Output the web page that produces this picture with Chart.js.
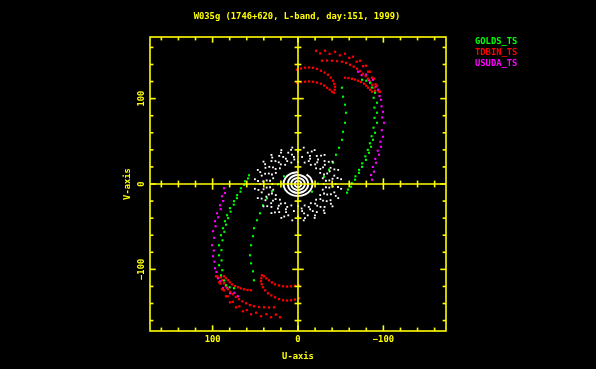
<!DOCTYPE html>
<html><head><meta charset="utf-8">
<script src="https://cdn.jsdelivr.net/npm/chart.js@4/dist/chart.umd.min.js"></script>
<style>html,body{margin:0;padding:0;background:#000;}canvas{display:block;}</style>
</head><body>
<canvas id="c" width="596" height="369"></canvas>
<script>
// ---------------- text ----------------
const titleText = 'W035g (1746+620, L-band, day:151, 1999)';
const seriesNames = ['GOLDS_TS', 'TDBIN_TS', 'USUDA_TS'];
const seriesColors = ['#00ff00', '#ff0000', '#ff00ff'];
const xAxisTitle = 'U-axis';
const yAxisTitle = 'V-axis';
const tickValues = [-160,-140,-120,-100,-80,-60,-40,-20,0,20,40,60,80,100,120,140,160];
const majorTickValues = [-100, 0, 100];
const majorTickLabels = ['\u2212100', '0', '100'];

// ---------------- TDBIN_TS (red) tracks [u, v] ----------------
const tdbinA1 = [[-21.1,156.1],[-31.6,156.1],[-43.3,154.9],[-55.0,152.6],[-64.4,149.1],[-72.6,144.4],[-79.6,138.6],[-84.3,131.5],[-89.0,123.3],[-92.5,115.1],[-96.0,108.1]];
const tdbinA2 = [[-26,153],[-37,152.5],[-49,150.8],[-60,147.7],[-68.7,143.3],[-76.3,138],[-82.2,131.6],[-86.8,124.6],[-90.9,116.8],[-94.3,108.4]];
const tdbinB = [[-28.1,144.4],[-34,144.6],[-39.8,144.4],[-45.6,144],[-51.5,143.2],[-56.3,141.8],[-60.9,139.7],[-65.2,137.5],[-69.1,135.0],[-72.8,132.2],[-76.1,129.2],[-79.2,126.3],[-82.0,123.3],[-84.5,119.9],[-86.7,116.3],[-88.6,112.8],[-90.2,109.3]];
const tdbinC = [[1.2,133.9],[-3.5,135.3],[-8.2,136.2],[-12.9,136.5],[-17.6,136.2],[-22.3,134.8],[-26.9,132.7],[-31.2,130.5],[-35.1,128.0],[-38.4,124.6],[-41.0,121.0],[-42.5,117.4],[-43.3,113.9],[-43.0,110.4],[-42.2,106.9]];
const tdbinD = [[1.2,118.6],[-3.5,119.4],[-8.2,119.8],[-12.9,120.1],[-17.6,119.8],[-22.3,118.8],[-26.9,117.5],[-30.6,115.3],[-34.0,112.8],[-37.1,110.5],[-39.8,108.1]];
const tdbinE = [[-55.0,124.5],[-59.1,124.1],[-63.2,123.3],[-66.8,122.3],[-70.3,121.0],[-73.8,119.4],[-77.3,117.5],[-79.9,115.2],[-82.0,112.8],[-84.5,110.4],[-86.7,108.1]];
const tdbinA1m = [[21.1,-156.1],[31.6,-156.1],[43.3,-154.9],[55.0,-152.6],[64.4,-149.1],[72.6,-144.4],[79.6,-138.6],[84.3,-131.5],[89.0,-123.3],[92.5,-115.1],[96.0,-108.1]];
const tdbinA2m = [[26,-153],[37,-152.5],[49,-150.8],[60,-147.7],[68.7,-143.3],[76.3,-138],[82.2,-131.6],[86.8,-124.6],[90.9,-116.8],[94.3,-108.4]];
const tdbinBm = [[28.1,-144.4],[34,-144.6],[39.8,-144.4],[45.6,-144],[51.5,-143.2],[56.3,-141.8],[60.9,-139.7],[65.2,-137.5],[69.1,-135.0],[72.8,-132.2],[76.1,-129.2],[79.2,-126.3],[82.0,-123.3],[84.5,-119.9],[86.7,-116.3],[88.6,-112.8],[90.2,-109.3]];
const tdbinCm = [[-1.2,-133.9],[3.5,-135.3],[8.2,-136.2],[12.9,-136.5],[17.6,-136.2],[22.3,-134.8],[26.9,-132.7],[31.2,-130.5],[35.1,-128.0],[38.4,-124.6],[41.0,-121.0],[42.5,-117.4],[43.3,-113.9],[43.0,-110.4],[42.2,-106.9]];
const tdbinDm = [[-1.2,-118.6],[3.5,-119.4],[8.2,-119.8],[12.9,-120.1],[17.6,-119.8],[22.3,-118.8],[26.9,-117.5],[30.6,-115.3],[34.0,-112.8],[37.1,-110.5],[39.8,-108.1]];
const tdbinEm = [[55.0,-124.5],[59.1,-124.1],[63.2,-123.3],[66.8,-122.3],[70.3,-121.0],[73.8,-119.4],[77.3,-117.5],[79.9,-115.2],[82.0,-112.8],[84.5,-110.4],[86.7,-108.1]];

// ---------------- GOLDS_TS (green) tracks ----------------
const goldsA1 = [[-75.0,122.1],[-84.3,118.6],[-90.2,106.9],[-92.5,95.2],[-92.5,83.5],[-92.5,71.7],[-90.2,60.0],[-87.8,51.8],[-85.5,43.6],[-83.1,36.6],[-79.6,28.3],[-75.0,20.1],[-71.4,13.1],[-66.8,5.0],[-62.1,-3.2],[-57.4,-10.2]];
const goldsA2 = [[-80,121],[-86.5,113],[-88.6,101],[-89.5,89.5],[-89.6,77.5],[-88.4,66],[-86.2,56],[-84.2,47.7],[-81.8,40],[-78.9,32.4],[-75.2,24.2],[-71.5,16.6],[-67.3,9],[-63,1],[-58.5,-6.5]];
const goldsB = [[-51.5,112.8],[-52.7,102.3],[-55.0,92.9],[-56.2,83.5],[-55.0,71.7],[-52.7,61.2],[-51.5,51.8],[-48.0,42.5],[-44.5,34.3],[-41.0,24.9],[-36.3,16.7],[-30.4,8.5],[-23.4,0.4],[-16.4,-9.0]];
const goldsA1m = [[75.0,-122.1],[84.3,-118.6],[90.2,-106.9],[92.5,-95.2],[92.5,-83.5],[92.5,-71.7],[90.2,-60.0],[87.8,-51.8],[85.5,-43.6],[83.1,-36.6],[79.6,-28.3],[75.0,-20.1],[71.4,-13.1],[66.8,-5.0],[62.1,3.2],[57.4,10.2]];
const goldsA2m = [[80,-121],[86.5,-113],[88.6,-101],[89.5,-89.5],[89.6,-77.5],[88.4,-66],[86.2,-56],[84.2,-47.7],[81.8,-40],[78.9,-32.4],[75.2,-24.2],[71.5,-16.6],[67.3,-9],[63,-1],[58.5,6.5]];
const goldsBm = [[51.5,-112.8],[52.7,-102.3],[55.0,-92.9],[56.2,-83.5],[55.0,-71.7],[52.7,-61.2],[51.5,-51.8],[48.0,-42.5],[44.5,-34.3],[41.0,-24.9],[36.3,-16.7],[30.4,-8.5],[23.4,-0.4],[16.4,9.0]];

// ---------------- USUDA_TS (magenta) tracks ----------------
const usudaA = [[-70.3,131.5],[-79.6,128.0],[-87.8,122.1],[-93.7,110.4],[-97.2,98.7],[-99.5,84.6],[-100.7,71.7],[-99.5,55.3],[-97.2,43.6],[-94.9,34.3],[-91.3,24.9],[-89.0,14.4],[-86.7,5.0]];
const usudaB = [[-74.5,127.5],[-83,121.5],[-91,114],[-95.5,103],[-97.8,91],[-98.6,78],[-98.2,63],[-96.5,49.5],[-93.4,39],[-90.5,29.5],[-87.6,20],[-85.5,10.5]];
const usudaAm = [[70.3,-131.5],[79.6,-128.0],[87.8,-122.1],[93.7,-110.4],[97.2,-98.7],[99.5,-84.6],[100.7,-71.7],[99.5,-55.3],[97.2,-43.6],[94.9,-34.3],[91.3,-24.9],[89.0,-14.4],[86.7,-5.0]];
const usudaBm = [[74.5,-127.5],[83,-121.5],[91,-114],[95.5,-103],[97.8,-91],[98.6,-78],[98.2,-63],[96.5,-49.5],[93.4,-39],[90.5,-29.5],[87.6,-20],[85.5,-10.5]];

// ---------------- short baselines (white) ----------------
const ringLeft = [
 [7.8,-25.1],[15,-22.5],[21.2,-18.4],[26,-13],[29,-6.7],[30,0],[29,6.7],[26,13],[21.2,18.4],[15,22.5],[7.8,25.1],[0,26],
 [12.6,-26.8],[20.1,-23.0],[26.2,-17.7],[30.5,-11.1],[32.7,-3.8],[32.7,3.8],[30.5,11.1],[26.2,17.7],[20.1,23.0],[12.6,26.8],[4.3,28.7],
 [4.8,-31.7],[14.2,-29.6],[22.5,-25.4],[29.3,-19.5],[34.2,-12.3],[36.7,-4.2],[36.7,4.2],[34.2,12.3],[29.3,19.5],[22.5,25.4],[14.2,29.6],[4.8,31.7],
 [14.0,-32.9],[23.5,-28.7],[31.4,-22.5],[37.1,-14.8],[40.4,-6.1],[40.8,3.0],[38.5,12.0],[33.6,20.1],[26.4,26.8],[17.3,31.7],[7.1,34.5],
 [11.4,-36.7],[22,-32.9],[31.1,-26.9],[38.1,-19],[42.5,-9.8],[44,0],[42.5,9.8],[38.1,19],[31.1,26.9],[22,32.9],[11.4,36.7],[0,38],
 [16.1,-38.1],[27.0,-33.2],[36.0,-26.0],[42.6,-17.1],[46.3,-7.0],[46.8,3.5],[44.2,13.9],[38.5,23.2],[30.2,31.0],[19.9,36.7],[8.2,39.9],
 [6.7,-42.6],[19.5,-39.7],[31.1,-34.1],[40.4,-26.2],[47.1,-16.5],[50.5,-5.6],[50.5,5.6],[47.1,16.5],[40.4,26.2],[31.1,34.1],[19.5,39.7],[6.7,42.6]];
const ringRight = [
 [-7.8,25.1],[-15,22.5],[-21.2,18.4],[-26,13],[-29,6.7],[-30,0],[-29,-6.7],[-26,-13],[-21.2,-18.4],[-15,-22.5],[-7.8,-25.1],[0,-26],
 [-12.6,26.8],[-20.1,23.0],[-26.2,17.7],[-30.5,11.1],[-32.7,3.8],[-32.7,-3.8],[-30.5,-11.1],[-26.2,-17.7],[-20.1,-23.0],[-12.6,-26.8],[-4.3,-28.7],
 [-4.8,31.7],[-14.2,29.6],[-22.5,25.4],[-29.3,19.5],[-34.2,12.3],[-36.7,4.2],[-36.7,-4.2],[-34.2,-12.3],[-29.3,-19.5],[-22.5,-25.4],[-14.2,-29.6],[-4.8,-31.7],
 [-14.0,32.9],[-23.5,28.7],[-31.4,22.5],[-37.1,14.8],[-40.4,6.1],[-40.8,-3.0],[-38.5,-12.0],[-33.6,-20.1],[-26.4,-26.8],[-17.3,-31.7],[-7.1,-34.5],
 [-11.4,36.7],[-22,32.9],[-31.1,26.9],[-38.1,19],[-42.5,9.8],[-44,0],[-42.5,-9.8],[-38.1,-19],[-31.1,-26.9],[-22,-32.9],[-11.4,-36.7],[0,-38],
 [-16.1,38.1],[-27.0,33.2],[-36.0,26.0],[-42.6,17.1],[-46.3,7.0],[-46.8,-3.5],[-44.2,-13.9],[-38.5,-23.2],[-30.2,-31.0],[-19.9,-36.7],[-8.2,-39.9],
 [-6.7,42.6],[-19.5,39.7],[-31.1,34.1],[-40.4,26.2],[-47.1,16.5],[-50.5,5.6],[-50.5,-5.6],[-47.1,-16.5],[-40.4,-26.2],[-31.1,-34.1],[-19.5,-39.7],[-6.7,-42.6]];
const coreRing1 = [[4,0],[3.46,1.75],[2,3.03],[0,3.5],[-2,3.03],[-3.46,1.75],[-4,0],[-3.46,-1.75],[-2,-3.03],[0,-3.5],[2,-3.03],[3.46,-1.75],[4,0]];
const coreRing2 = [[8,0],[6.93,3.5],[4,6.06],[0,7],[-4,6.06],[-6.93,3.5],[-8,0],[-6.93,-3.5],[-4,-6.06],[0,-7],[4,-6.06],[6.93,-3.5],[8,0]];
const coreRing3 = [[12,0],[10.4,5.25],[6,9.09],[0,10.5],[-6,9.09],[-10.4,5.25],[-12,0],[-10.4,-5.25],[-6,-9.09],[0,-10.5],[6,-9.09],[10.4,-5.25],[12,0]];
const coreRing4 = [[0,14],[8.5,12.1],[14.7,7],[17,0],[14.7,-7],[8.5,-12.1],[0,-14],[-8.5,-12.1],[-14.7,-7],[-17,0],[-14.7,7],[-10,11]];

// ---------------- build ----------------
const xy = arr => arr.map(p => ({x: p[0], y: p[1]}));
const dots = (label, color, arrs, r) => ({
  label, data: xy([].concat(...arrs)), showLine: false,
  pointStyle: 'rect', pointRadius: r, pointHoverRadius: r,
  backgroundColor: color, borderWidth: 0
});
const curve = (arr) => ({
  label: 'core', data: xy(arr), showLine: true, tension: 0.4,
  borderColor: '#ffffff', borderWidth: 2, pointRadius: 0, fill: false
});

const datasets = [
  dots('short', '#ffffff', [ringLeft, ringRight], 1.3),
  dots(seriesNames[0], seriesColors[0], [goldsA1, goldsA2, goldsB, goldsA1m, goldsA2m, goldsBm], 1.5),
  dots(seriesNames[1], seriesColors[1], [tdbinA1, tdbinA2, tdbinB, tdbinC, tdbinD, tdbinE, tdbinA1m, tdbinA2m, tdbinBm, tdbinCm, tdbinDm, tdbinEm], 1.6),
  dots(seriesNames[2], seriesColors[2], [usudaA, usudaB, usudaAm, usudaBm], 1.5),
  curve(coreRing1), curve(coreRing2), curve(coreRing3), curve(coreRing4)
];

const FONT = 'bold 8.8px "DejaVu Sans Mono"';
const YEL = '#ffff00';

const framePlugin = {
  id: 'frame',
  afterDatasetsDraw(chart) {
    const ctx = chart.ctx, xs = chart.scales.x, ys = chart.scales.y, a = chart.chartArea;
    const x0 = xs.getPixelForValue(0), y0 = ys.getPixelForValue(0);
    ctx.save();
    ctx.strokeStyle = YEL; ctx.lineWidth = 1.6; ctx.lineCap = 'butt';
    const L = (x1, y1, x2, y2) => { ctx.beginPath(); ctx.moveTo(x1, y1); ctx.lineTo(x2, y2); ctx.stroke(); };
    ctx.strokeRect(a.left, a.top, a.right - a.left, a.bottom - a.top);
    L(a.left, y0, a.right, y0);
    L(x0, a.top, x0, a.bottom);
    tickValues.forEach(t => {
      const len = majorTickValues.includes(t) ? 5.7 : 3.4;
      const px = xs.getPixelForValue(t), py = ys.getPixelForValue(t);
      L(px, a.top, px, a.top + len);
      L(px, a.bottom, px, a.bottom - len);
      if (t !== 0) L(px, y0 - len, px, y0 + len);
      L(a.left, py, a.left + len, py);
      L(a.right, py, a.right - len, py);
      if (t !== 0) L(x0 - len, py, x0 + len, py);
    });
    ctx.fillStyle = YEL; ctx.font = FONT;
    ctx.textAlign = 'center'; ctx.textBaseline = 'middle';
    ctx.fillText(titleText, 297, 16.5);
    majorTickValues.forEach((t, i) => {
      ctx.fillText(majorTickLabels[i], xs.getPixelForValue(t), 339.5);
    });
    ctx.fillText(xAxisTitle, x0, 357);
    majorTickValues.forEach((t, i) => {
      ctx.save(); ctx.translate(141.5, ys.getPixelForValue(t)); ctx.rotate(-Math.PI / 2);
      ctx.fillText(majorTickLabels[i], 0, 0); ctx.restore();
    });
    ctx.save(); ctx.translate(128, y0); ctx.rotate(-Math.PI / 2);
    ctx.fillText(yAxisTitle, 0, 0); ctx.restore();
    ctx.textAlign = 'left';
    seriesNames.forEach((n, i) => {
      ctx.fillStyle = seriesColors[i];
      ctx.fillText(n, 475, 41.5 + i * 11);
    });
    ctx.restore();
  }
};

new Chart(document.getElementById('c').getContext('2d'), {
  type: 'scatter',
  data: { datasets },
  options: {
    responsive: false, animation: false, devicePixelRatio: 1,
    layout: { padding: { left: 150, right: 150, top: 37, bottom: 38 } },
    scales: {
      x: { type: 'linear', min: -173.3, max: 173.3, reverse: true, display: false },
      y: { type: 'linear', min: -172.2, max: 172.2, display: false }
    },
    plugins: { legend: { display: false }, title: { display: false }, tooltip: { enabled: false } }
  },
  plugins: [framePlugin]
});
</script>
</body></html>
